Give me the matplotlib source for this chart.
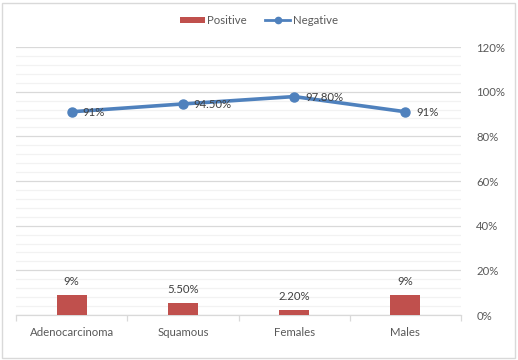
import matplotlib.pyplot as plt
import numpy as np
from matplotlib.patches import Rectangle
from matplotlib.lines import Line2D

categories = ["Adenocarcinoma", "Squamous", "Females", "Males"]
positive = [0.09, 0.055, 0.022, 0.09]
negative = [0.91, 0.945, 0.978, 0.91]
pos_labels = ["9%", "5.50%", "2.20%", "9%"]
neg_labels = ["91%", "94.50%", "97.80%", "91%"]

red = "#C0504D"
blue = "#4F81BD"
txt = "#404040"
tick_col = "#595959"
fs = 8.2

plt.rcParams['font.family'] = ['Lato', 'DejaVu Sans']

fig = plt.figure(figsize=(5.18, 3.6), dpi=100)
ax = fig.add_axes([16/518, 1-315/360, (461-16)/518, (315-47)/360])

x = np.arange(len(categories))
ax.bar(x, positive, width=0.27, color=red, zorder=3)
ax.plot(x, negative, color=blue, linewidth=2.6, marker='o', markersize=6.5,
        zorder=4)

for xi, v, lab in zip(x, positive, pos_labels):
    ax.annotate(lab, (xi, v), xytext=(0, 8), textcoords='offset pixels',
                ha='center', va='bottom', fontsize=fs, color=txt)
for xi, v, lab in zip(x, negative, neg_labels):
    ax.annotate(lab, (xi, v), xytext=(11, -1), textcoords='offset pixels',
                ha='left', va='center', fontsize=fs, color=txt, zorder=5)

ax.set_xlim(-0.5, 3.5)
ax.set_ylim(0, 1.2)
ax.set_yticks(np.arange(0, 1.21, 0.2))
ax.set_yticklabels([f"{int(round(t*100))}%" for t in np.arange(0, 1.21, 0.2)])
ax.set_yticks(np.arange(0, 1.21, 0.04), minor=True)
ax.yaxis.tick_right()
ax.tick_params(axis='y', which='both', length=0, labelsize=fs,
               labelcolor=tick_col, pad=11)
ax.grid(axis='y', which='major', color="#D9D9D9", linewidth=0.9, zorder=0)
ax.grid(axis='y', which='minor', color="#F2F2F2", linewidth=0.9, zorder=0)

ax.set_xticks(x)
ax.set_xticklabels(categories)
ax.set_xticks(np.arange(-0.5, 3.6, 1), minor=True)
ax.tick_params(axis='x', which='major', length=0, labelsize=fs,
               labelcolor=tick_col, pad=9)
ax.tick_params(axis='x', which='minor', length=4, color="#D9D9D9", width=0.9)

for s in ['top', 'left', 'right']:
    ax.spines[s].set_visible(False)
ax.spines['bottom'].set_color("#D9D9D9")
ax.spines['bottom'].set_linewidth(0.9)

handles = [
    Rectangle((0, 0), 1, 1, facecolor=red, edgecolor='none'),
    Line2D([], [], color=blue, linewidth=2, marker='o', markersize=4.5),
]
fig.legend(handles, ["Positive", "Negative"], loc='upper center',
           bbox_to_anchor=(0.5, 0.987), ncol=2, frameon=False, fontsize=fs,
           labelcolor=tick_col, handlelength=2.2, handleheight=0.5,
           columnspacing=1.6, handletextpad=0.2)

fig.patches.append(Rectangle((2/518, 2/360), 513/518, 355/360,
                             transform=fig.transFigure, fill=False,
                             edgecolor="#D9D9D9", linewidth=1))

fig.savefig("out.png", dpi=100)
